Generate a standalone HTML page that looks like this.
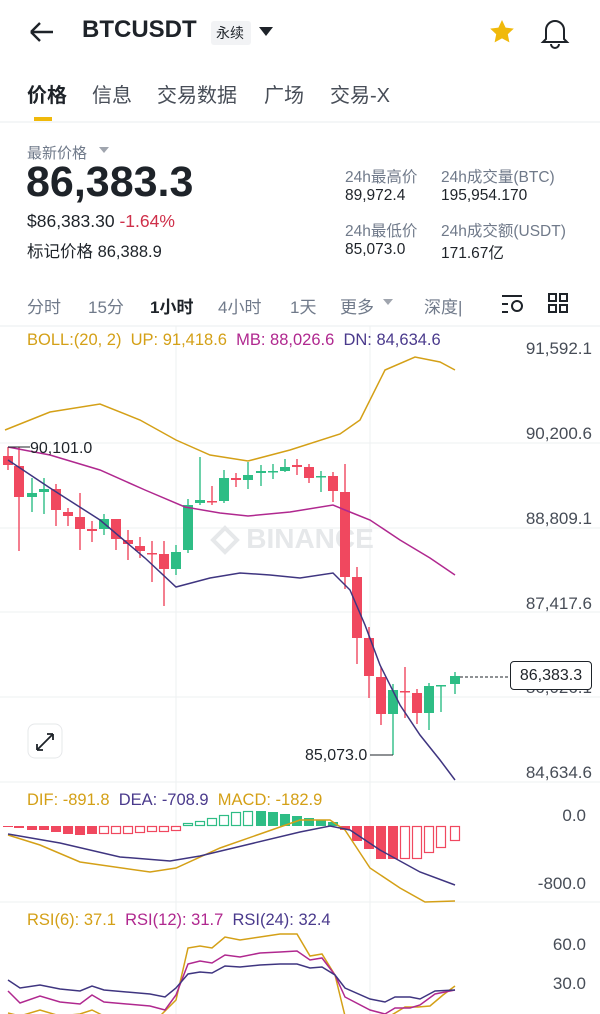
<!DOCTYPE html><html><head><meta charset="utf-8"><style>
body{margin:0;width:600px;height:1014px;overflow:hidden;background:#fff;font-family:"Liberation Sans","Noto Sans CJK SC",sans-serif;color:#1e2329;position:relative}
.a{position:absolute;white-space:nowrap}
.g{color:#707a8a}
.r{position:absolute;white-space:nowrap;right:8px;font-size:17px;color:#474d57}
</style></head><body>
<svg class="a" style="left:0;top:0" width="600" height="1014" id="s">
<path d="M31 32H53M31 32l9-9M31 32l9 9" stroke="#1e2329" stroke-width="2.4" fill="none"/>
<rect x="211" y="21" width="40" height="24" rx="3" fill="#f2f3f5"/>
<path d="M259 27h14l-7 9z" fill="#1e2329"/>
<path d="M502 20l3.6 7.6 8.2 1-6 5.6 1.6 8.2-7.4-4-7.4 4 1.6-8.2-6-5.6 8.2-1z" fill="#f0b90b"/>
<path d="M546 39v-9a9 9 0 0 1 18 0v9l3 3h-24z M551 44a4 4 0 0 0 8 0" stroke="#1e2329" stroke-width="2" fill="none"/>
<rect x="34" y="117" width="18" height="4" fill="#f0b90b"/>
<line x1="0" y1="122" x2="600" y2="122" stroke="#eaecef"/>
<path d="M99 147h10l-5 6z" fill="#a0a5ae"/>
<path d="M383 299h10l-5 6z" fill="#a0a5ae"/>
<path d="M502 296h20M502 312h6M502 304h6" stroke="#1e2329" stroke-width="2"/>
<circle cx="517" cy="306" r="5" stroke="#1e2329" stroke-width="2" fill="none"/>
<g stroke="#1e2329" stroke-width="2" fill="none"><rect x="549" y="294" width="7" height="7"/><rect x="560" y="294" width="7" height="7"/><rect x="549" y="305" width="7" height="7"/><rect x="560" y="305" width="7" height="7"/></g>
<line x1="0" y1="326" x2="600" y2="326" stroke="#eaecef"/>
<g stroke="#eef0f2"><line x1="0" y1="443" x2="600" y2="443"/><line x1="0" y1="528" x2="600" y2="528"/><line x1="0" y1="612" x2="600" y2="612"/><line x1="0" y1="697" x2="600" y2="697"/><line x1="0" y1="782" x2="600" y2="782"/><line x1="0" y1="902" x2="600" y2="902"/><line x1="176" y1="326" x2="176" y2="1014"/><line x1="370" y1="326" x2="370" y2="1014"/></g>
<text x="310" y="548" font-size="28" font-weight="bold" fill="#e6e8ea" text-anchor="middle" font-family="Liberation Sans">BINANCE</text>
<path d="M225 528l12 12-12 12-12-12z" fill="none" stroke="#e6e8ea" stroke-width="4"/>
<g id="c"></g>
<rect x="28" y="724" width="34" height="34" rx="7" fill="#fff" stroke="#e6e8ea"/>
<path d="M37 750l16-16M37 750v-6M37 750h6M53 734h-6M53 734v6" stroke="#1e2329" stroke-width="1.8" fill="none"/>
</svg>
<div class="a" style="left:82px;top:16px;font-size:24px;font-weight:bold">BTCUSDT</div>
<div class="a" style="left:216px;top:23px;font-size:14px">永续</div>
<div class="a" style="left:27px;top:79px;font-size:20px;font-weight:bold">价格</div>
<div class="a g" style="left:92px;top:79px;font-size:20px;color:#474d57">信息</div>
<div class="a g" style="left:157px;top:79px;font-size:20px;color:#474d57">交易数据</div>
<div class="a g" style="left:264px;top:79px;font-size:20px;color:#474d57">广场</div>
<div class="a g" style="left:330px;top:79px;font-size:20px;color:#474d57">交易-X</div>
<div class="a g" style="left:27px;top:142px;font-size:15px">最新价格</div>
<div class="a" style="left:26px;top:158px;font-size:43px;font-weight:bold">86,383.3</div>
<div class="a" style="left:27px;top:211px;font-size:17.5px">$86,383.30 <span style="color:#cf304a">-1.64%</span></div>
<div class="a" style="left:27px;top:238px;font-size:16.5px">标记价格 86,388.9</div>
<div class="a g" style="left:345px;top:165px;font-size:15.5px">24h最高价</div>
<div class="a" style="left:345px;top:187px;font-size:15.5px">89,972.4</div>
<div class="a g" style="left:345px;top:219px;font-size:15.5px">24h最低价</div>
<div class="a" style="left:345px;top:241px;font-size:15.5px">85,073.0</div>
<div class="a g" style="left:441px;top:165px;font-size:15.5px">24h成交量(BTC)</div>
<div class="a" style="left:441px;top:187px;font-size:15.5px">195,954.170</div>
<div class="a g" style="left:441px;top:219px;font-size:15.5px">24h成交额(USDT)</div>
<div class="a" style="left:441px;top:241px;font-size:15.5px">171.67亿</div>
<div class="a g" style="left:27px;top:293px;font-size:17px">分时</div>
<div class="a g" style="left:88px;top:293px;font-size:17px">15分</div>
<div class="a" style="left:150px;top:293px;font-size:17px;font-weight:bold">1小时</div>
<div class="a g" style="left:218px;top:293px;font-size:17px">4小时</div>
<div class="a g" style="left:290px;top:293px;font-size:17px">1天</div>
<div class="a g" style="left:340px;top:293px;font-size:17px">更多</div>
<div class="a g" style="left:424px;top:293px;font-size:17px">深度|</div>
<div class="a" style="left:27px;top:331px;font-size:16.5px"><span style="color:#d4a017">BOLL:(20, 2)&nbsp; UP: 91,418.6</span>&nbsp; <span style="color:#b0288f">MB: 88,026.6</span>&nbsp; <span style="color:#4a3a8c">DN: 84,634.6</span></div>
<div class="a" style="left:27px;top:791px;font-size:16.5px"><span style="color:#d4a017">DIF: -891.8</span>&nbsp; <span style="color:#4a3a8c">DEA: -708.9</span>&nbsp; <span style="color:#d4a017">MACD: -182.9</span></div>
<div class="a" style="left:27px;top:911px;font-size:16.5px"><span style="color:#d4a017">RSI(6): 37.1</span>&nbsp; <span style="color:#b0288f">RSI(12): 31.7</span>&nbsp; <span style="color:#4a3a8c">RSI(24): 32.4</span></div>
<div class="r" style="top:339px">91,592.1</div>
<div class="r" style="top:424px">90,200.6</div>
<div class="r" style="top:509px">88,809.1</div>
<div class="r" style="top:594px">87,417.6</div>
<div class="r" style="top:678px">86,026.1</div>
<div class="r" style="top:763px">84,634.6</div>
<div class="r" style="right:14px;top:806px">0.0</div>
<div class="r" style="right:14px;top:874px">-800.0</div>
<div class="r" style="right:14px;top:935px">60.0</div>
<div class="r" style="right:14px;top:974px">30.0</div>
<div class="a" style="left:510px;top:661px;width:80px;height:27px;border:1px solid #1e2329;border-radius:4px;background:#fff;font-size:16px;line-height:27px;text-align:center">86,383.3</div>
<div class="a" style="left:30px;top:440px;font-size:16px">90,101.0</div>
<div class="a" style="left:305px;top:747px;font-size:16px">85,073.0</div>
<script>
const C=[[8,456,465,447,470,0],[19,466,497,447,551,0],[32,497,493,478,512,1],[44,492,489,478,514,1],[56,489,510,484,526,0],[68,512,516,508,526,0],[80,517,529,493,550,0],[92,529,531,521,542,0],[104,529,519,514,535,1],[116,519,539,519,550,0],[128,540,544,530,560,0],[140,546,551,537,558,0],[152,553,554,541,582,0],[164,554,569,541,606,0],[176,569,552,545,575,1],[188,550,505,499,553,1],[200,503,500,457,505,1],[212,501,502,486,505,0],[224,501,478,470,503,1],[236,478,480,473,487,0],[248,480,475,462,489,1],[261,473,471,465,486,1],[273,472,471,464,479,1],[285,471,467,459,472,1],[297,465,467,459,475,0],[309,467,478,464,483,0],[321,477,476,471,492,1],[333,476,491,472,502,0],[345,492,577,464,589,0],[357,577,638,567,664,0],[369,638,676,627,698,0],[381,677,714,667,725,0],[393,714,690,684,755,1],[405,691,692,667,718,0],[417,693,713,689,724,0],[429,713,686,683,730,1],[441,686,685,685,712,1],[455,684,676,672,694,1]];
const M=[-1,-2,-4,-4,-6,-8,-9,-8,-8,-8,-8,-7,-6,-6,-5,3,5,8,11,14,15,15,14,12,10,8,6,4,-4,-15,-23,-33,-33,-33,-33,-27,-22,-15];
let h='';const R='#f0485f',G='#2ebd85';
C.forEach(c=>{const col=c[5]?G:R;h+=`<line x1="${c[0]}" y1="${c[3]}" x2="${c[0]}" y2="${c[4]}" stroke="${col}" stroke-width="1.4"/>`;const t=Math.min(c[1],c[2]),b=Math.max(Math.abs(c[1]-c[2]),1.5);h+=`<rect x="${c[0]-5}" y="${t}" width="10" height="${b}" fill="${col}"/>`;});
M.forEach((v,i)=>{const x=C[i][0];const col=v>0?G:R;const hol=(i>=8&&i<=14)||(i>=15&&i<=20)||i>=33;const y=v>0?826-v:826;const hh=Math.abs(v);h+=hol?`<rect x="${x-4.5}" y="${y+0.5}" width="9" height="${hh-1}" fill="#fff" stroke="${col}" stroke-width="1.2"/>`:`<rect x="${x-5}" y="${y}" width="10" height="${hh}" fill="${col}"/>`;});
function pl(p,c){return `<polyline points="${p}" fill="none" stroke="${c}" stroke-width="1.5"/>`}
const Y='#d4a017',P='#b0288f',B='#3f3580';
h+=pl("5,430 50,412 100,404 140,420 176,440 210,455 248,461 290,450 340,434 360,420 385,370 415,357 440,362 455,370",Y);
h+=pl("8,447 50,455 100,470 145,490 185,507 220,513 248,516 290,512 333,505 345,510 370,520 400,540 430,558 455,575",P);
h+=pl("8,460 50,488 100,520 145,558 176,587 210,578 240,573 270,575 300,578 333,573 350,590 365,625 380,665 400,705 420,735 440,760 455,780",B);
h+=`<line x1="8" y1="447" x2="30" y2="447" stroke="#1e2329"/><line x1="370" y1="755" x2="393" y2="755" stroke="#1e2329"/><line x1="460" y1="677" x2="510" y2="677" stroke="#1e2329" stroke-dasharray="3,2"/>`;
h+=pl("8,835 40,845 80,862 150,872 176,868 220,848 260,834 300,820 330,820 345,830 370,868 400,888 425,902 455,901",Y);
h+=pl("8,834 60,843 120,857 170,861 200,856 250,844 300,832 330,826 350,830 380,850 420,872 455,885",B);
h+=pl("8,1013 20,1016 40,1010 60,1016 80,1014 92,1010 104,1016 160,1016 176,1000 188,948 200,946 212,948 225,937 240,940 260,937 280,934 297,934 310,956 322,954 335,975 345,1016 390,1016 405,1007 418,1007 430,1006 443,995 455,986",Y);
h+=pl("8,991 20,1003 40,996 60,1002 80,1004 92,995 104,1002 150,1006 165,1010 176,995 188,964 200,961 212,963 225,955 240,957 260,953 280,952 297,951 310,960 322,958 335,975 345,997 370,1010 385,1014 395,1008 410,1008 420,1005 435,994 455,990",P);
h+=pl("8,980 20,988 40,985 60,989 80,991 92,986 104,990 150,994 165,997 176,988 188,974 200,972 212,973 225,966 240,967 260,965 280,964 297,964 310,968 322,967 335,975 345,988 370,999 385,1002 395,997 410,997 420,999 435,991 455,990",B);
document.getElementById('c').innerHTML=h;
</script>
</body></html>
